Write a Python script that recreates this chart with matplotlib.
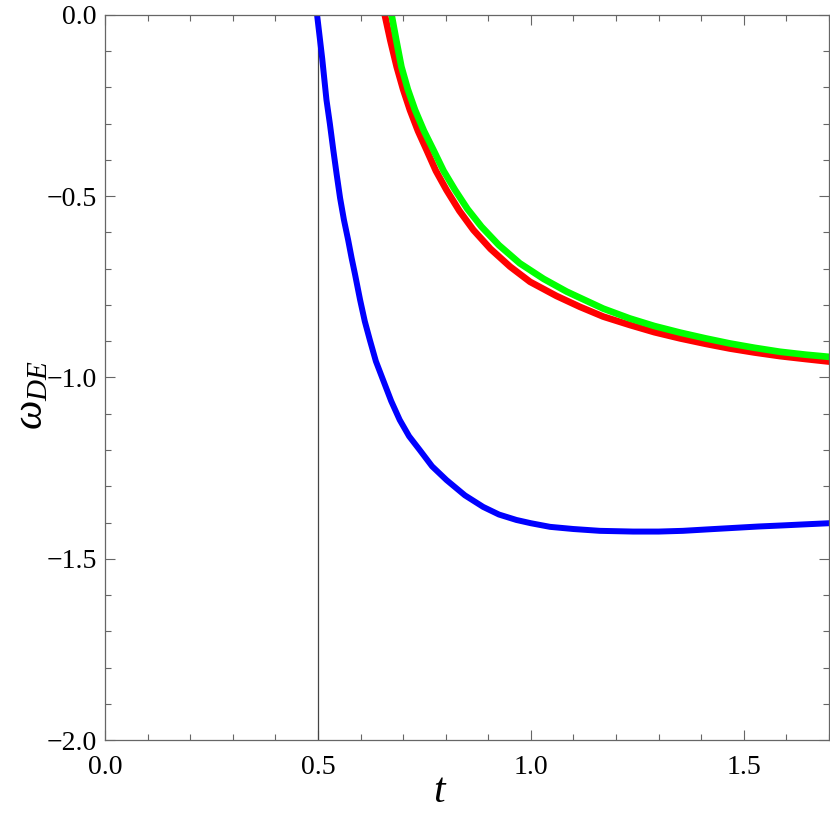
import matplotlib
matplotlib.use('Agg')
import matplotlib.pyplot as plt
from matplotlib.ticker import MultipleLocator, FuncFormatter

plt.rcParams['font.family'] = 'Liberation Serif'
plt.rcParams['mathtext.fontset'] = 'custom'
plt.rcParams['mathtext.rm'] = 'Liberation Serif'
plt.rcParams['mathtext.it'] = 'Liberation Serif:italic'

# values
t_blue = [0.498, 0.510, 0.520, 0.528, 0.536, 0.544, 0.552, 0.561, 0.571, 0.579,
          0.587, 0.599, 0.610, 0.622, 0.636, 0.653, 0.672, 0.692, 0.714, 0.739,
          0.768, 0.802, 0.845, 0.888, 0.925, 0.966, 1.0, 1.045, 1.1, 1.162,
          1.24, 1.30, 1.357, 1.415, 1.475, 1.535, 1.592, 1.645, 1.70]
w_blue = [0.0, -0.12, -0.234, -0.30, -0.372, -0.44, -0.505, -0.565, -0.621, -0.67,
          -0.715, -0.786, -0.845, -0.897, -0.955, -1.007, -1.065, -1.117, -1.162, -1.20,
          -1.245, -1.283, -1.325, -1.357, -1.378, -1.393, -1.402, -1.412, -1.418, -1.423,
          -1.425, -1.425, -1.423, -1.419, -1.415, -1.411, -1.408, -1.405, -1.402]

t_red = [0.657, 0.670, 0.685, 0.700, 0.716, 0.735, 0.755, 0.777, 0.802, 0.832,
         0.865, 0.905, 0.951, 0.998, 1.060, 1.115, 1.170, 1.232, 1.290, 1.350,
         1.410, 1.467, 1.525, 1.585, 1.645, 1.70]
w_red = [0.0, -0.07, -0.143, -0.205, -0.262, -0.32, -0.372, -0.43, -0.483, -0.54,
         -0.593, -0.645, -0.694, -0.736, -0.775, -0.805, -0.832, -0.855, -0.875, -0.892,
         -0.907, -0.920, -0.931, -0.941, -0.949, -0.956]

t_green = [0.673, 0.684, 0.696, 0.711, 0.728, 0.749, 0.771, 0.795, 0.822, 0.851,
           0.884, 0.925, 0.974, 1.030, 1.084, 1.115, 1.170, 1.232, 1.290, 1.350,
           1.410, 1.467, 1.525, 1.585, 1.645, 1.70]
w_green = [0.0, -0.07, -0.143, -0.205, -0.262, -0.32, -0.372, -0.43, -0.483, -0.535,
           -0.584, -0.635, -0.685, -0.728, -0.763, -0.78, -0.81, -0.837, -0.858, -0.876,
           -0.892, -0.906, -0.918, -0.929, -0.937, -0.943]

t_mark = 0.5

fig = plt.figure(figsize=(8.3, 8.3), dpi=100)
ax = fig.add_axes([105/830, 90/830, 724/830, 725/830])

ax.axvline(t_mark, color='#444444', lw=0.9)
ax.plot(t_red, w_red, color='#ff0000', lw=4.8, solid_joinstyle='round')
ax.plot(t_green, w_green, color='#00ff00', lw=4.8, solid_joinstyle='round')
ax.plot(t_blue, w_blue, color='#0000ff', lw=4.3, solid_joinstyle='round')

ax.set_xlim(0, 1.7)
ax.set_ylim(-2, 0)
fmt = FuncFormatter(lambda v, p: ('%.1f' % v).replace('-', '\u2212'))
ax.xaxis.set_major_locator(MultipleLocator(0.5))
ax.xaxis.set_minor_locator(MultipleLocator(0.1))
ax.yaxis.set_major_locator(MultipleLocator(0.5))
ax.yaxis.set_minor_locator(MultipleLocator(0.1))
ax.xaxis.set_major_formatter(fmt)
ax.yaxis.set_major_formatter(fmt)

for s in ax.spines.values():
    s.set_color('#666666')
    s.set_linewidth(0.9)
ax.tick_params(which='both', direction='in', top=True, right=True,
               color='#666666', width=0.8, labelsize=20, labelcolor='black')
ax.tick_params(which='major', length=7.5)
ax.tick_params(which='minor', length=4.5)
ax.tick_params(axis='x', which='major', pad=11)
ax.tick_params(axis='y', which='major', pad=6)

fig.text(440/830, 1 - 792/830, r'$t$', fontsize=30, ha='center', va='center')
fig.text(32/830, 1 - 395/830, r'$\omega_{DE}$', fontsize=30, ha='center',
         va='center', rotation=90)

fig.savefig('out.png', dpi=100)
